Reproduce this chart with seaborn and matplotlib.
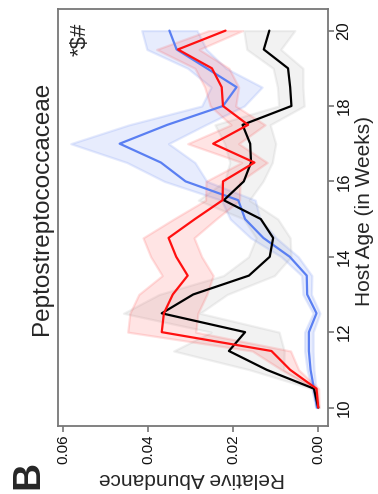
import numpy as np
import pandas as pd
import matplotlib
matplotlib.use("Agg")
import matplotlib.pyplot as plt
from matplotlib.colors import to_rgba
import seaborn as sns

# ---- data ----
ages = [10, 10.5, 11, 11.5, 12, 12.5, 13, 13.5, 14, 14.5, 15,
        15.5, 16, 16.5, 17, 17.5, 18, 18.5, 19, 19.5, 20]

blue_mean = [0.0003, 0.0010, 0.0018, 0.0022, 0.0022, 0.0004, 0.0026, 0.0027, 0.0067, 0.0129, 0.0172,
             0.0188, 0.0312, 0.0370, 0.0467, 0.0355, 0.0224, 0.0192, 0.0262, 0.0333, 0.0350]
blue_err = [0.0003, 0.0005, 0.0008, 0.0010, 0.0010, 0.0008, 0.0010, 0.0012, 0.0020, 0.0030, 0.0035,
            0.0040, 0.0050, 0.0080, 0.0115, 0.0090, 0.0050, 0.0060, 0.0045, 0.0070, 0.0065]

black_mean = [0.0000, 0.0010, 0.0121, 0.0210, 0.0172, 0.0368, 0.0294, 0.0163, 0.0114, 0.0106, 0.0135,
              0.0222, 0.0175, 0.0158, 0.0160, 0.0178, 0.0063, 0.0066, 0.0071, 0.0128, 0.0115]
black_err = [0.0002, 0.0005, 0.0040, 0.0130, 0.0080, 0.0090, 0.0080, 0.0060, 0.0050, 0.0040, 0.0040,
             0.0060, 0.0045, 0.0050, 0.0060, 0.0065, 0.0030, 0.0030, 0.0035, 0.0040, 0.0060]

red_mean = [0.0000, 0.0004, 0.0066, 0.0110, 0.0368, 0.0363, 0.0342, 0.0307, 0.0334, 0.0352, 0.0290,
            0.0225, 0.0224, 0.0150, 0.0247, 0.0165, 0.0224, 0.0227, 0.0250, 0.0330, 0.0218]
red_err = [0.0002, 0.0005, 0.0020, 0.0045, 0.0080, 0.0080, 0.0080, 0.0060, 0.0060, 0.0060, 0.0050,
           0.0040, 0.0040, 0.0030, 0.0060, 0.0040, 0.0030, 0.0040, 0.0040, 0.0050, 0.0040]

age_ticks = [10, 12, 14, 16, 18, 20]
abund_ticks = [0.00, 0.02, 0.04, 0.06]

title = "Peptostreptococcaceae"
xlab = "Host Age (in Weeks)"
ylab = "Relative Abundance"
panel = "B"
signif = "*$#"

# ---- figure ----
sns.set_style("white")
plt.rcParams['font.family'] = ['Liberation Sans', 'DejaVu Sans']

W, H = 378, 494
fig = plt.figure(figsize=(W / 100, H / 100), dpi=100)
ax = fig.add_axes([58 / W, 1 - 426 / H, (328 - 58) / W, (426 - 9.5) / H])

series = [
    (blue_mean, blue_err, "#5a7ff2", "#5a7ff2", 0.14, 0.16),
    (black_mean, black_err, "#000000", "#9a9a9a", 0.12, 0.14),
    (red_mean, red_err, "#ff1010", "#ff4040", 0.14, 0.16),
]
ages_arr = np.array(ages)
for mean, err, col, bcol, fa, ea in series:
    m = np.array(mean)
    e = np.array(err)
    ax.fill_betweenx(ages_arr, m - e, m + e, facecolor=to_rgba(bcol, fa),
                     edgecolor=to_rgba(bcol, ea), linewidth=1.6, zorder=1)
for mean, err, col, bcol, fa, ea in series:
    df = pd.DataFrame({"age": ages, "val": mean})
    sns.lineplot(data=df, x="val", y="age", orient="y", sort=False,
                 estimator=None, errorbar=None, color=col, linewidth=1.6,
                 ax=ax, zorder=3)

ax.set_xlim(0.0612, -0.0023)
ax.set_ylim(9.51, 20.56)
ax.set_xticks(abund_ticks)
ax.set_xticklabels([f"{t:.2f}" for t in abund_ticks], rotation=90, fontsize=11)
ax.yaxis.tick_right()
ax.set_yticks(age_ticks)
ax.set_yticklabels([str(t) for t in age_ticks], rotation=90, va="center", fontsize=12)
ax.set_xlabel("")
ax.set_ylabel("")
ax.tick_params(axis="both", which="major", length=4, width=1.2, color="#777777",
               labelcolor="#111111", pad=2, bottom=True, right=True, left=False)
for s in ax.spines.values():
    s.set_color("#777777")
    s.set_linewidth(1.3)

def ftext(x, y, s, **kw):
    fig.text(x / W, 1 - y / H, s, ha="center", va="center", **kw)

ftext(42, 208, title, rotation=90, fontsize=17.5)
ftext(365, 211, xlab, rotation=90, fontsize=15)
ftext(192, 478, ylab, rotation=180, fontsize=15)
ftext(28, 475, panel, rotation=90, fontsize=28, fontweight="bold")
ftext(80, 39, signif, rotation=90, fontsize=16)

fig.savefig("out.png", dpi=100, facecolor="white")
